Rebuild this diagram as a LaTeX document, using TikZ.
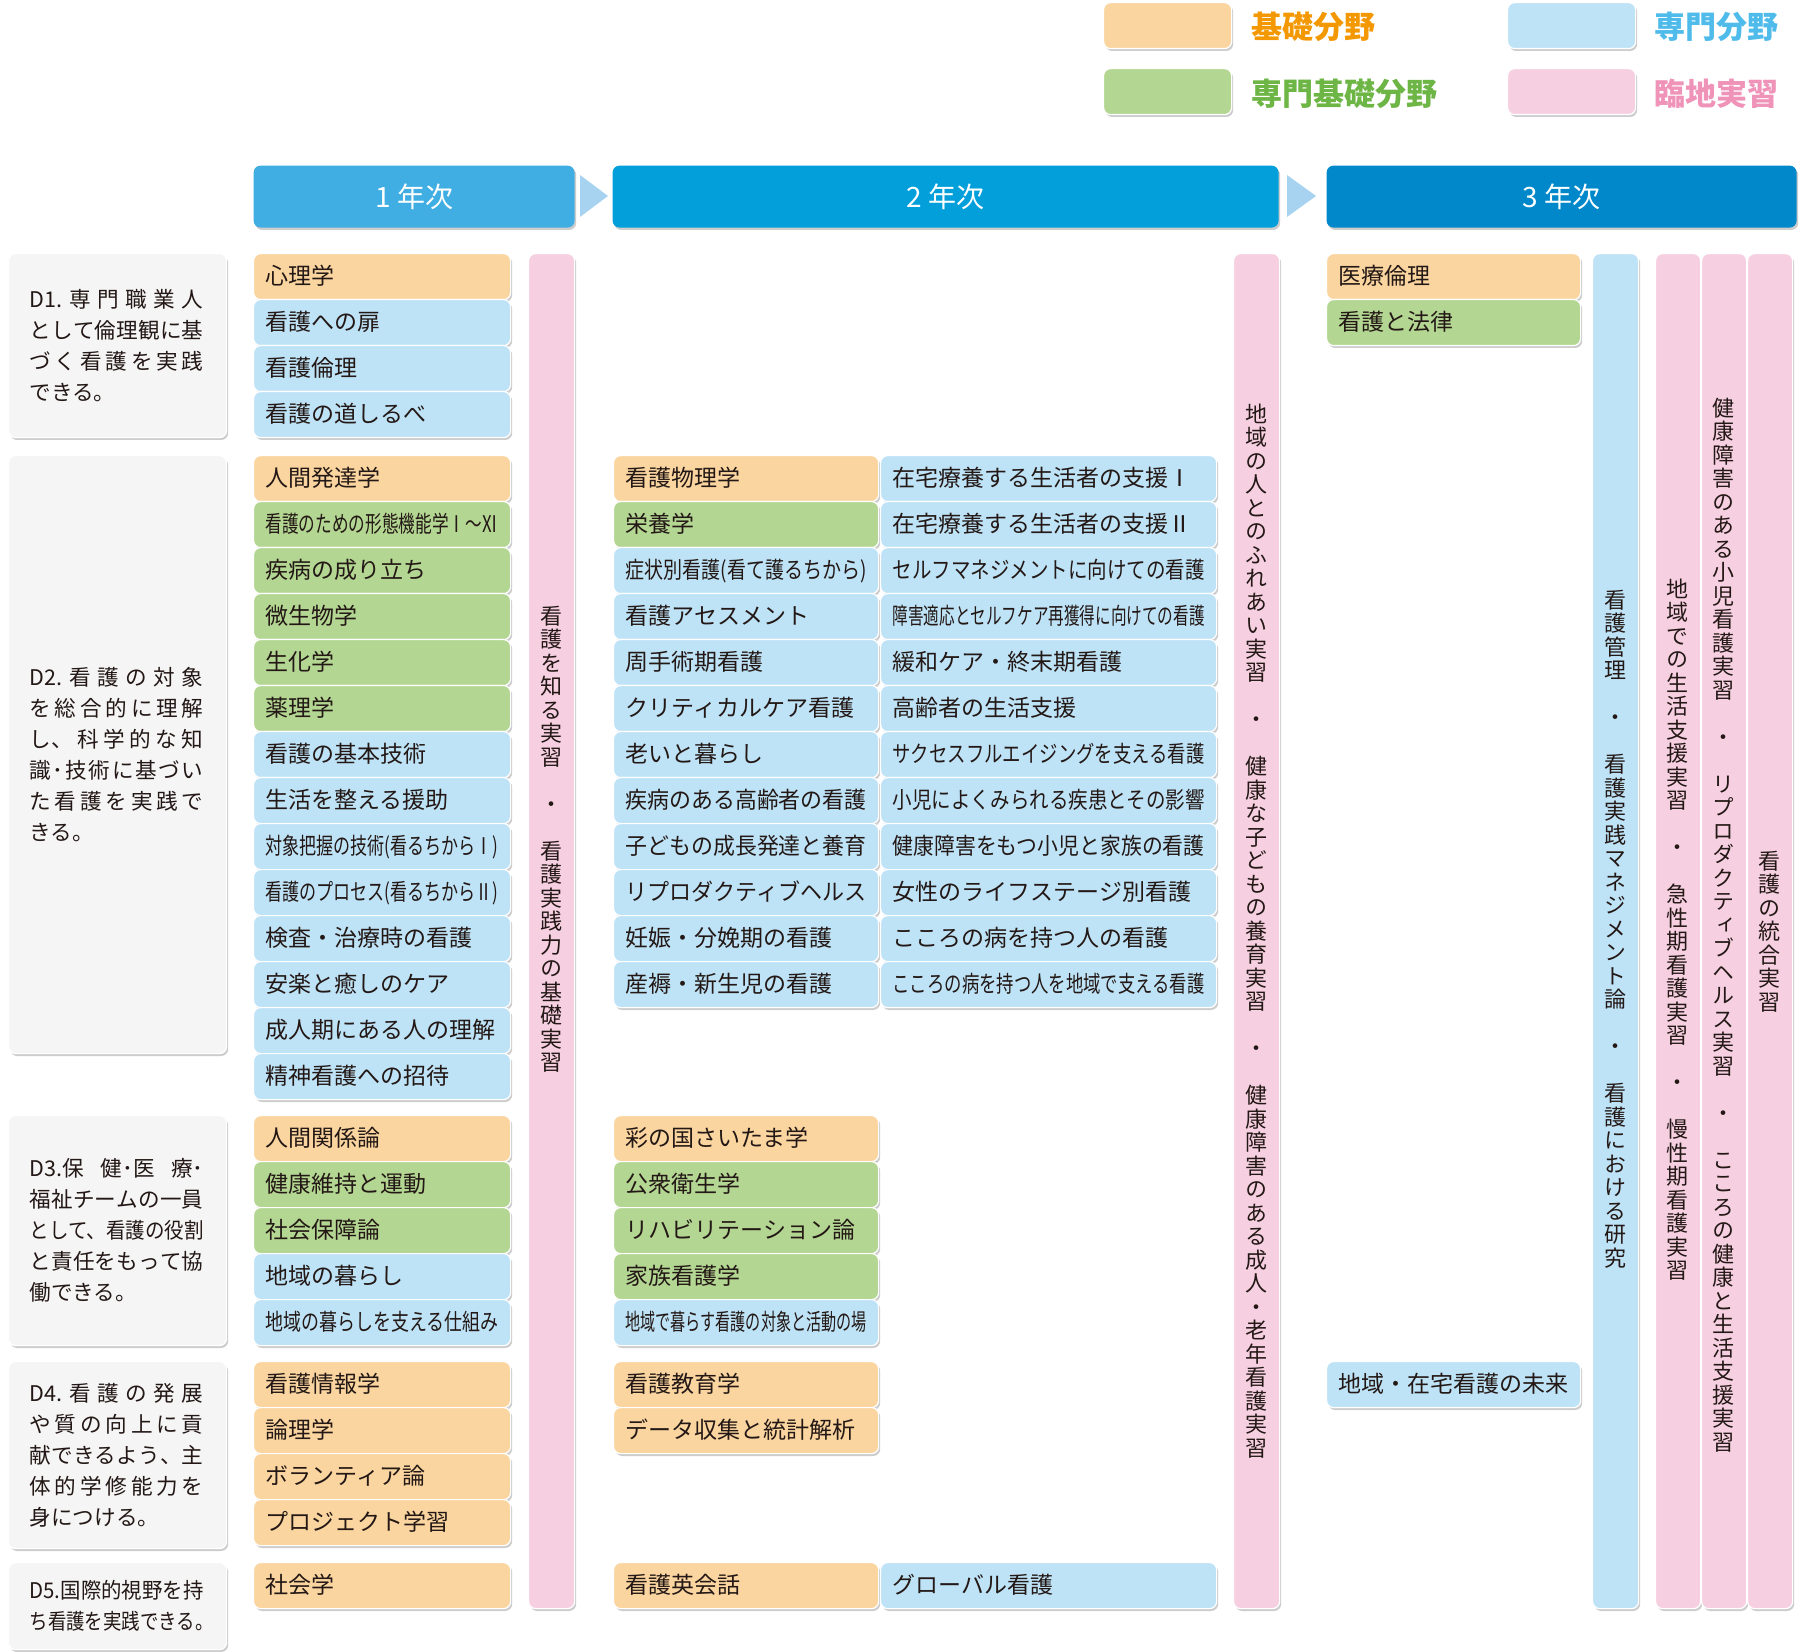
\documentclass[tikz,border=0pt]{standalone}
\usepackage{fontspec}
\usepackage{graphicx}
\setmainfont{Noto Sans CJK JP}
\newfontfamily\vfont[RawFeature=+vert]{Noto Sans CJK JP}
\usetikzlibrary{shadows}
\definecolor{cOr}{HTML}{FAD5A0}
\definecolor{cGr}{HTML}{B3D692}
\definecolor{cBl}{HTML}{BEE3F7}
\definecolor{cPk}{HTML}{F6D0E1}
\definecolor{cD}{HTML}{F5F5F5}
\definecolor{cTx}{HTML}{231815}
\definecolor{cYa}{HTML}{40AEE3}
\definecolor{cYb}{HTML}{039FDB}
\definecolor{cYc}{HTML}{0088CA}
\definecolor{cArr}{HTML}{A7D3F0}
\definecolor{lOr}{HTML}{F39800}
\definecolor{lGr}{HTML}{6DB544}
\definecolor{lBl}{HTML}{4FBBEA}
\definecolor{lPk}{HTML}{EF93B9}
\newcommand\subjf{\fontsize{11.5pt}{13pt}\selectfont}
\newcommand\dfont{\fontsize{10.8pt}{15.5pt}\selectfont}
\newcommand\yfont{\fontsize{14pt}{16pt}\selectfont}
\newcommand\lgfont{\fontsize{15.5pt}{17pt}\selectfont\bfseries}
\newsavebox\fitbx
\newcommand\fitw[2]{\sbox\fitbx{#2}\ifdim\wd\fitbx>#1\relax\resizebox{#1}{\ht\fitbx}{\usebox\fitbx}\else\usebox\fitbx\fi}
\makeatletter
\newcommand\jl[1]{\leavevmode\hbox to 87pt{\let\jsep\relax\@tfor\jch:=#1\do{\jsep\jch\let\jsep\hfil}}}
\newcommand\vtxt[1]{{\vfont\fontsize{11pt}{11.75pt}\selectfont\vbox{\offinterlineskip\@tfor\vch:=#1\do{\hbox to 12pt{\hss\vrule height 10pt depth 1.75pt width 0pt\relax\vch\hss}}}}}
\makeatother
\newcommand\cl[6]{\node[cell=#4,fill=#5] (#1) at (#2,#3) {\fitw{#4}{#6}};}
\begin{document}
\begin{tikzpicture}[x=0.5pt,y=-0.5pt,
 shad/.style={drop shadow={shadow xshift=0.8pt,shadow yshift=-1.2pt,opacity=0.28,fill=black!70}},
 box/.style={rounded corners=3.5pt,draw=white,line width=0.6pt,shad,anchor=north west,inner ysep=0pt},
 cell/.style={box,minimum height=23pt,inner xsep=6pt,text width=#1,align=left,text height=9.5pt,text depth=1.3pt,font=\subjf,text=cTx},
 dbox/.style={box,fill=cD,inner xsep=10.5pt,text width=88pt,align=left,font=\dfont,text=cTx},
 ybar/.style={box,draw=none,minimum height=31pt,inner xsep=0pt,text=white,font=\yfont},
 vbar/.style={box,minimum height=677.5pt,inner sep=0pt},
 vt/.style={anchor=north,inner sep=0pt,text=cTx},
 lgbox/.style={box,minimum width=64pt,minimum height=23pt,inner sep=0pt},
 lgtxt/.style={anchor=west,inner sep=0pt,font=\lgfont}]
\useasboundingbox (0,0) rectangle (1800,1652);
\fill[white] (0,0) rectangle (1800,1652);
% legend
\node[lgbox,fill=cOr] (lgo) at (1103,2) {};
\node[lgtxt,text=lOr] (lgot) at (1251,27) {基礎分野};
\node[lgbox,fill=cGr] (lgg) at (1103,68) {};
\node[lgtxt,text=lGr] (lggt) at (1251,94) {専門基礎分野};
\node[lgbox,fill=cBl] (lgb) at (1507,2) {};
\node[lgtxt,text=lBl] (lgbt) at (1654,27) {専門分野};
\node[lgbox,fill=cPk] (lgp) at (1507,68) {};
\node[lgtxt,text=lPk] (lgpt) at (1654,94) {臨地実習};
% year bars
\node[ybar,fill=cYa,minimum width=160.5pt] (ya) at (253,165) {1 年次};
\node[ybar,fill=cYb,minimum width=333pt] (yb) at (612,165) {2 年次};
\node[ybar,fill=cYc,minimum width=235pt] (yc) at (1326,165) {3 年次};
\fill[cArr] (580,175) -- (608,196) -- (580,217) -- cycle;
\fill[cArr] (1287,175) -- (1316,196) -- (1287,217) -- cycle;
% D boxes
\node[dbox,minimum height=92pt] (D1) at (8,253) {\jl{{D1.}専門職業人}\\\jl{として倫理観に基}\\\jl{づく看護を実践}\\できる。};
\node[dbox,minimum height=299pt] (D2) at (8,455) {\jl{{D2.}看護の対象}\\\jl{を総合的に理解}\\\jl{{し、}科学的な知}\\\jl{識･技術に基づい}\\\jl{た看護を実践で}\\きる。};
\node[dbox,minimum height=115pt] (D3) at (8,1115) {\jl{{D3.保}{健･医}{療･}}\\\jl{福祉チームの一員}\\\resizebox{87pt}{\height}{として、看護の役割}\\\jl{と責任をもって協}\\働できる。};
\node[dbox,minimum height=93.5pt] (D4) at (8,1361) {\jl{{D4.}看護の発展}\\\jl{や質の向上に貢}\\\jl{献できるよう、主}\\\jl{体的学修能力を}\\身につける。};
\node[dbox,minimum height=43.5pt] (D5) at (8,1562) {\resizebox{87pt}{\height}{D5.国際的視野を持}\\\resizebox{92pt}{\height}{ち看護を実践できる。}};
% year 1
\cl{a1}{253}{253}{116.5pt}{cOr}{心理学}
\cl{a2}{253}{299}{116.5pt}{cBl}{看護への扉}
\cl{a3}{253}{345}{116.5pt}{cBl}{看護倫理}
\cl{a4}{253}{391}{116.5pt}{cBl}{看護の道しるべ}
\cl{b1}{253}{455}{116.5pt}{cOr}{人間発達学}
\cl{b2}{253}{501}{116.5pt}{cGr}{看護のための形態機能学Ⅰ〜Ⅺ}
\cl{b3}{253}{547}{116.5pt}{cGr}{疾病の成り立ち}
\cl{b4}{253}{593}{116.5pt}{cGr}{微生物学}
\cl{b5}{253}{639}{116.5pt}{cGr}{生化学}
\cl{b6}{253}{685}{116.5pt}{cGr}{薬理学}
\cl{b7}{253}{731}{116.5pt}{cBl}{看護の基本技術}
\cl{b8}{253}{777}{116.5pt}{cBl}{生活を整える援助}
\cl{b9}{253}{823}{116.5pt}{cBl}{対象把握の技術(看るちからⅠ)}
\cl{b10}{253}{869}{116.5pt}{cBl}{看護のプロセス(看るちからⅡ)}
\cl{b11}{253}{915}{116.5pt}{cBl}{検査・治療時の看護}
\cl{b12}{253}{961}{116.5pt}{cBl}{安楽と癒しのケア}
\cl{b13}{253}{1007}{116.5pt}{cBl}{成人期にある人の理解}
\cl{b14}{253}{1053}{116.5pt}{cBl}{精神看護への招待}
\cl{c1}{253}{1115}{116.5pt}{cOr}{人間関係論}
\cl{c2}{253}{1161}{116.5pt}{cGr}{健康維持と運動}
\cl{c3}{253}{1207}{116.5pt}{cGr}{社会保障論}
\cl{c4}{253}{1253}{116.5pt}{cBl}{地域の暮らし}
\cl{c5}{253}{1299}{116.5pt}{cBl}{地域の暮らしを支える仕組み}
\cl{d1}{253}{1361}{116.5pt}{cOr}{看護情報学}
\cl{d2}{253}{1407}{116.5pt}{cOr}{論理学}
\cl{d3}{253}{1453}{116.5pt}{cOr}{ボランティア論}
\cl{d4}{253}{1499}{116.5pt}{cOr}{プロジェクト学習}
\cl{e1}{253}{1562}{116.5pt}{cOr}{社会学}
% year 2 left
\cl{f1}{613}{455}{120.5pt}{cOr}{看護物理学}
\cl{f2}{613}{501}{120.5pt}{cGr}{栄養学}
\cl{f3}{613}{547}{120.5pt}{cBl}{症状別看護(看て護るちから)}
\cl{f4}{613}{593}{120.5pt}{cBl}{看護アセスメント}
\cl{f5}{613}{639}{120.5pt}{cBl}{周手術期看護}
\cl{f6}{613}{685}{120.5pt}{cBl}{クリティカルケア看護}
\cl{f7}{613}{731}{120.5pt}{cBl}{老いと暮らし}
\cl{f8}{613}{777}{120.5pt}{cBl}{疾病のある高齢者の看護}
\cl{f9}{613}{823}{120.5pt}{cBl}{子どもの成長発達と養育}
\cl{f10}{613}{869}{120.5pt}{cBl}{リプロダクティブヘルス}
\cl{f11}{613}{915}{120.5pt}{cBl}{妊娠・分娩期の看護}
\cl{f12}{613}{961}{120.5pt}{cBl}{産褥・新生児の看護}
% year 2 right
\cl{g1}{880}{455}{156pt}{cBl}{在宅療養する生活者の支援Ⅰ}
\cl{g2}{880}{501}{156pt}{cBl}{在宅療養する生活者の支援Ⅱ}
\cl{g3}{880}{547}{156pt}{cBl}{セルフマネジメントに向けての看護}
\cl{g4}{880}{593}{156pt}{cBl}{障害適応とセルフケア再獲得に向けての看護}
\cl{g5}{880}{639}{156pt}{cBl}{緩和ケア・終末期看護}
\cl{g6}{880}{685}{156pt}{cBl}{高齢者の生活支援}
\cl{g7}{880}{731}{156pt}{cBl}{サクセスフルエイジングを支える看護}
\cl{g8}{880}{777}{156pt}{cBl}{小児によくみられる疾患とその影響}
\cl{g9}{880}{823}{156pt}{cBl}{健康障害をもつ小児と家族の看護}
\cl{g10}{880}{869}{156pt}{cBl}{女性のライフステージ別看護}
\cl{g11}{880}{915}{156pt}{cBl}{こころの病を持つ人の看護}
\cl{g12}{880}{961}{156pt}{cBl}{こころの病を持つ人を地域で支える看護}
\cl{h1}{613}{1115}{120.5pt}{cOr}{彩の国さいたま学}
\cl{h2}{613}{1161}{120.5pt}{cGr}{公衆衛生学}
\cl{h3}{613}{1207}{120.5pt}{cGr}{リハビリテーション論}
\cl{h4}{613}{1253}{120.5pt}{cGr}{家族看護学}
\cl{h5}{613}{1299}{120.5pt}{cBl}{地域で暮らす看護の対象と活動の場}
\cl{i1}{613}{1361}{120.5pt}{cOr}{看護教育学}
\cl{i2}{613}{1407}{120.5pt}{cOr}{データ収集と統計解析}
\cl{j1}{613}{1562}{120.5pt}{cOr}{看護英会話}
\cl{j2}{880}{1562}{156pt}{cBl}{グローバル看護}
% year 3
\cl{k1}{1326}{253}{115pt}{cOr}{医療倫理}
\cl{k2}{1326}{299}{115pt}{cGr}{看護と法律}
\cl{k3}{1326}{1361}{115pt}{cBl}{地域・在宅看護の未来}
% vertical bars
\node[vbar,fill=cPk,minimum width=23pt] (p1) at (528,253) {};
\node[vt] (p1t) at (551,604) {\vtxt{看護を知る実習{}・{}看護実践力の基礎実習}};
\node[vbar,fill=cPk,minimum width=23pt] (p2) at (1233,253) {};
\node[vt] (p2t) at (1256,402) {\vtxt{地域の人とのふれあい実習{}・{}健康な子どもの養育実習{}・{}健康障害のある成人・老年看護実習}};
\node[vbar,fill=cBl,minimum width=23pt] (q1) at (1592,253) {};
\node[vt] (q1t) at (1615,588) {\vtxt{看護管理{}・{}看護実践マネジメント論{}・{}看護における研究}};
\node[vbar,fill=cPk,minimum width=22.5pt] (p3) at (1655,253) {};
\node[vt] (p3t) at (1677.5,577) {\vtxt{地域での生活支援実習{}・{}急性期看護実習{}・{}慢性期看護実習}};
\node[vbar,fill=cPk,minimum width=22.5pt] (p4) at (1701,253) {};
\node[vt] (p4t) at (1723.5,396) {\vtxt{健康障害のある小児看護実習{}・{}リプロダクティブヘルス実習{}・{}こころの健康と生活支援実習}};
\node[vbar,fill=cPk,minimum width=22.5pt] (p5) at (1747,253) {};
\node[vt] (p5t) at (1769.5,849) {\vtxt{看護の統合実習}};
\end{tikzpicture}
\end{document}
